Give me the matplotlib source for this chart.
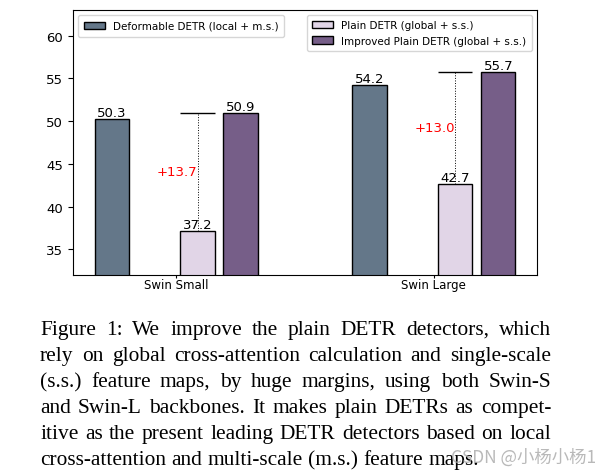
import numpy as np
import matplotlib
matplotlib.use("Agg")
import matplotlib.pyplot as plt
from matplotlib.patches import Patch

# Data
groups = ["Swin Small", "Swin Large"]
deformable = [50.3, 54.2]
plain = [37.2, 42.7]
improved = [50.9, 55.7]
gains = ["+13.7", "+13.0"]

names = ["Deformable DETR (local + m.s.)",
         "Plain DETR (global + s.s.)",
         "Improved Plain DETR (global + s.s.)"]
colors = ["#647789", "#E1D5E7", "#765E88"]

caption = [
    "Figure 1:  We improve the plain DETR detectors, which",
    "rely on global cross-attention calculation and single-scale",
    "(s.s.)  feature maps, by huge margins, using both Swin-S",
    "and Swin-L backbones. It makes plain DETRs as compet-",
    "itive as the present leading DETR detectors based on local",
    "cross-attention and multi-scale (m.s.) feature maps.",
]

W, H = 610, 477
fig = plt.figure(figsize=(W / 100, H / 100), dpi=100)
ax = fig.add_axes([73 / W, 1 - 276 / H, 464 / W, 265 / H])

x = np.arange(len(groups))
w = 0.133
offs = [-0.25, 0.083, 0.25]
series = [deformable, plain, improved]

for s, o, c in zip(series, offs, colors):
    bars = ax.bar(x + o, s, w, color=c, edgecolor="black", linewidth=1.0)
    for b, v in zip(bars, s):
        ax.text(b.get_x() + b.get_width() / 2, v, f"{v}", ha="center",
                va="bottom", fontsize=9.5)

# gap markers
for i in range(len(groups)):
    xc = x[i] + offs[1]
    ax.hlines(improved[i], xc - w / 2, xc + w / 2, color="black", linewidth=1.0)
    ax.vlines(xc, plain[i], improved[i], color="black", linestyle=":",
              linewidth=0.7)
    ax.text(xc, (plain[i] + improved[i]) / 2, gains[i], color="red",
            ha="right", va="center", fontsize=9.5)

ax.set_xlim(-0.4, 1.4)
ax.set_ylim(32, 63)
ax.set_xticks(x)
ax.set_xticklabels(groups, fontsize=8.5)
ax.set_yticks([35, 40, 45, 50, 55, 60])
ax.tick_params(axis="y", labelsize=9.5)
ax.tick_params(axis="x", length=2, pad=0.5)

h = [Patch(facecolor=c, edgecolor="black") for c in colors]
leg1 = ax.legend(h[:1], names[:1], loc="upper left", fontsize=7.5,
                 borderpad=0.55)
ax.add_artist(leg1)
ax.legend(h[1:], names[1:], loc="upper right", fontsize=7.5, borderpad=0.5)

# caption, justified
renderer = fig.canvas.get_renderer()
fam = "Liberation Serif"
x0, x1 = 40, 551
base = 335

probe = fig.text(0, 0, caption[1], fontsize=10, family=fam)
fs = 10 * 0.965 * (x1 - x0) / probe.get_window_extent(renderer).width
probe.remove()

for li, line in enumerate(caption):
    words = line.split()
    y = 1 - (base + li * 26) / H
    texts = [fig.text(0, y, wd, fontsize=fs, family=fam, va="baseline")
             for wd in words]
    widths = [t.get_window_extent(renderer).width for t in texts]
    if li == len(caption) - 1:
        sp = fig.text(0, 0, "a b", fontsize=fs, family=fam)
        sa = fig.text(0, 0, "ab", fontsize=fs, family=fam)
        gap = sp.get_window_extent(renderer).width - sa.get_window_extent(renderer).width
        sp.remove()
        sa.remove()
    else:
        gap = (x1 - x0 - sum(widths)) / (len(words) - 1)
    pos = x0
    for t, wd in zip(texts, widths):
        t.set_x(pos / W)
        pos += wd + gap

fig.text(596 / W, 1 - 458 / H, "CSDN @小杨小杨1", fontsize=12.5, color="#a8a8a8",
         alpha=0.8, ha="right", va="center",
         family=["Noto Sans CJK SC", "DejaVu Sans"])

fig.savefig("out.png", dpi=100)
